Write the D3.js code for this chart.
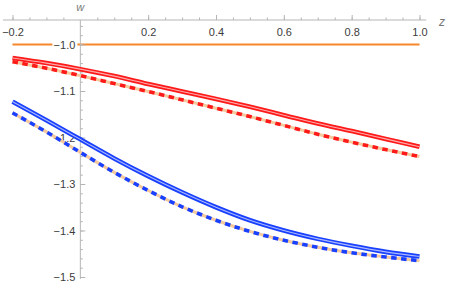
<!DOCTYPE html>
<html>
<head>
<meta charset="utf-8">
<script src="https://cdn.jsdelivr.net/npm/d3@7"></script>
<style>
  body { margin: 0; background: #fff; }
  svg { display: block; font-family: "Liberation Sans", Arial, sans-serif; }
</style>
</head>
<body>
<svg width="450" height="284"></svg>
<script>
let zs = [-0.2, -0.1, 0, 0.1, 0.2, 0.3, 0.4, 0.5, 0.6, 0.7, 0.8, 0.9, 1.0];
let orangeW = [-1.0, -1.0, -1.0, -1.0, -1.0, -1.0, -1.0, -1.0, -1.0, -1.0, -1.0, -1.0, -1.0];
let redSolid = [-1.029, -1.040, -1.053, -1.068, -1.085, -1.101, -1.117, -1.134, -1.152, -1.170, -1.186, -1.203, -1.220];
let redDashed = [-1.037, -1.051, -1.067, -1.084, -1.101, -1.119, -1.137, -1.155, -1.174, -1.193, -1.210, -1.226, -1.241];
let blueSolid = [-1.123, -1.163, -1.204, -1.245, -1.283, -1.318, -1.350, -1.378, -1.400, -1.418, -1.433, -1.446, -1.456];
let blueDashed = [-1.147, -1.188, -1.232, -1.275, -1.314, -1.349, -1.378, -1.402, -1.421, -1.436, -1.448, -1.457, -1.465];

let xMajor = [-0.2, 0.2, 0.4, 0.6, 0.8, 1.0];
let yMajor = [-1.0, -1.1, -1.2, -1.3, -1.4, -1.5];

let svg = d3.select("svg");

let x = d3.scaleLinear().domain([-0.2, 1.0]).range([12.5, 419.5]);
let y = d3.scaleLinear().domain([-1.5, -1.0]).range([277, 44.5]);

let axisColor = "#b5b5b5";
let labelColor = "#3c3c3c";
let fmt = d3.format(".1f");

let xTop = y.invert(20);
let yBottom = y.invert(279);

let line = d3.line()
  .x((d, i) => x(zs[i]))
  .y(d => y(d))
  .curve(d3.curveMonotoneX);

// orange reference line sits under the tick labels
svg.append("path").attr("d", line(orangeW))
  .attr("fill", "none").attr("stroke", "#f7882a").attr("stroke-width", 2);

// minor ticks
let xMinor = d3.range(-0.2, 1.0001, 0.05).filter(v => Math.abs(v) > 1e-6);
let yMinor = d3.range(-1.5, xTop, 0.02);

let gx = svg.append("g").attr("transform", `translate(0,${y(xTop)})`);
gx.call(d3.axisBottom(x).tickValues(xMinor).tickSize(-2.5).tickFormat(""));
gx.selectAll(".tick line").attr("stroke", axisColor);
gx.select(".domain").remove();

let gx2 = svg.append("g").attr("transform", `translate(0,${y(xTop)})`);
gx2.call(d3.axisBottom(x).tickValues(xMajor).tickSize(-5).tickPadding(8).tickFormat(fmt));
gx2.select(".domain").remove();
gx2.selectAll(".tick line").attr("stroke", axisColor);
gx2.selectAll(".tick text").attr("fill", labelColor).style("font-size", "11px")
  .style("font-family", "'Liberation Sans', Arial, sans-serif");

svg.append("line")
  .attr("x1", x(-0.228)).attr("x2", x(1.02))
  .attr("y1", y(xTop)).attr("y2", y(xTop))
  .attr("stroke", axisColor);

let gy = svg.append("g").attr("transform", `translate(${x(0)},0)`);
gy.call(d3.axisLeft(y).tickValues(yMinor).tickSize(-2.5).tickFormat(""));
gy.select(".domain").remove();
gy.selectAll(".tick line").attr("stroke", axisColor);

let gy2 = svg.append("g").attr("transform", `translate(${x(0)},0)`);
gy2.call(d3.axisLeft(y).tickValues(yMajor).tickSize(-5).tickPadding(5).tickFormat(fmt));
gy2.select(".domain").remove();
gy2.selectAll(".tick line").attr("stroke", axisColor);
gy2.selectAll(".tick text").attr("fill", labelColor).style("font-size", "11px")
  .style("font-family", "'Liberation Sans', Arial, sans-serif");
gy2.selectAll(".tick").filter(d => d === -1.0)
  .insert("rect", "text")
  .attr("x", -28).attr("y", -6).attr("width", 25).attr("height", 12).attr("fill", "#fff");

svg.append("line")
  .attr("x1", x(0)).attr("x2", x(0))
  .attr("y1", y(xTop)).attr("y2", y(yBottom))
  .attr("stroke", axisColor);

// axis names
svg.append("text").attr("x", x(0)).attr("y", 11)
  .attr("text-anchor", "middle").attr("fill", "#777")
  .style("font-size", "11px").style("font-style", "italic")
  .text("w");
svg.append("text").attr("x", 442).attr("y", 26)
  .attr("text-anchor", "middle").attr("fill", "#777")
  .style("font-size", "12px").style("font-style", "italic")
  .text("z");

let curves = svg.append("g");

function doubleLine(vals, outer, inner) {
  curves.append("path").attr("d", line(vals))
    .attr("fill", "none").attr("stroke", outer).attr("stroke-width", 4.6);
  curves.append("path").attr("d", line(vals))
    .attr("fill", "none").attr("stroke", inner).attr("stroke-width", 1.1);
}

function dashedLine(vals, color) {
  curves.append("path").attr("d", line(vals))
    .attr("fill", "none").attr("stroke", "#f4c99e").attr("stroke-width", 3);
  curves.append("path").attr("d", line(vals))
    .attr("fill", "none").attr("stroke", color).attr("stroke-width", 3.6)
    .attr("stroke-dasharray", "5.5,4.5");
}

doubleLine(redSolid, "#ff1a1a", "#ffaaaa");
dashedLine(redDashed, "#ff1a1a");
doubleLine(blueSolid, "#1a40ff", "#a9b9ff");
dashedLine(blueDashed, "#1a40ff");
</script>
</body>
</html>
